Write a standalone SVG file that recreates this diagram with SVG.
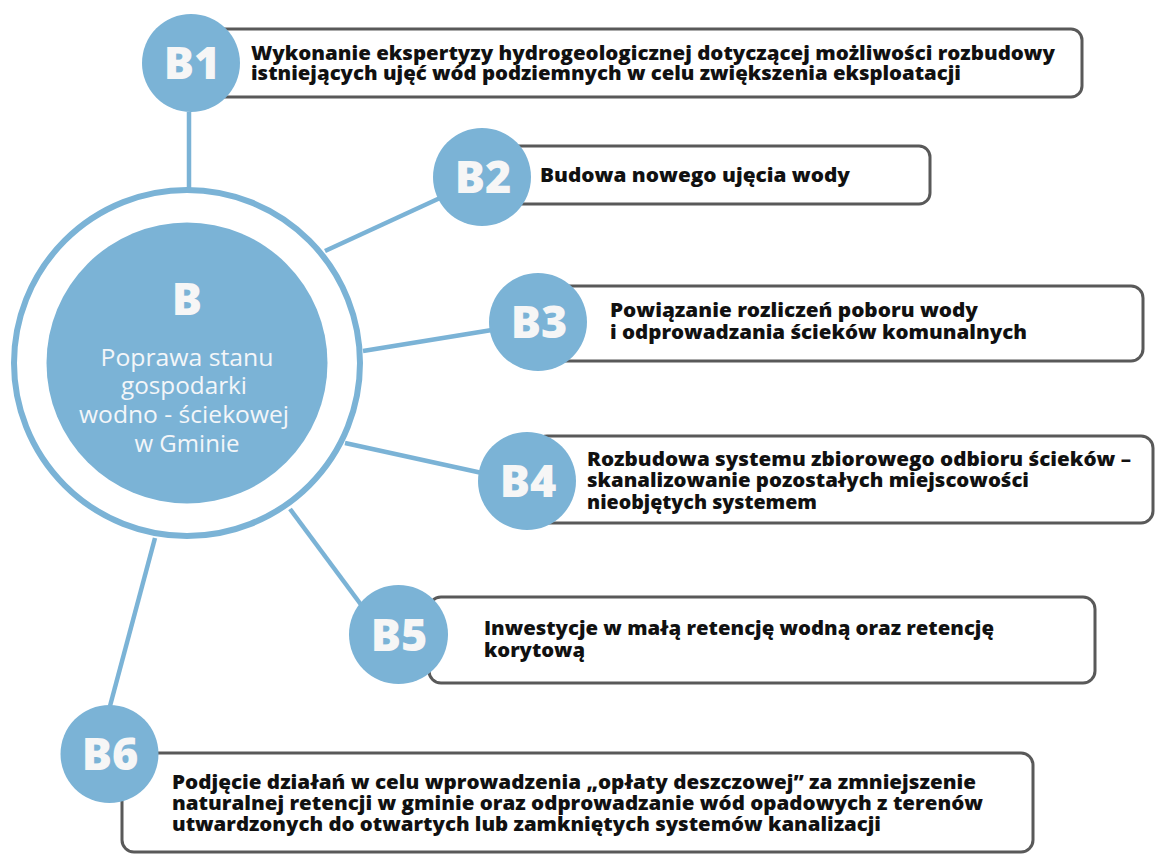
<svg xmlns="http://www.w3.org/2000/svg" width="1155" height="854" viewBox="0 0 1155 854">
<style>
.box{fill:#fff;stroke:#595959;stroke-width:3}
.dot{fill:#7BB3D6}
.lbl{font-family:"Open Sans","Liberation Sans",sans-serif;font-weight:800;font-size:45px;fill:#F6F6F6;text-anchor:middle}
.t{font-family:"Open Sans","Liberation Sans",sans-serif;font-weight:800;font-size:18.5px;fill:#111}
.c{font-family:"Open Sans","Liberation Sans",sans-serif;font-weight:400;font-size:23px;fill:#F3F6F9;text-anchor:middle}
.con{stroke:#7BB3D6;stroke-width:4.5;fill:none}
</style>
<rect width="1155" height="854" fill="#fff"/>
<g id="connectors">
<line class="con" x1="189" y1="112" x2="189" y2="190"/>
<line class="con" x1="325" y1="251" x2="440" y2="198"/>
<line class="con" x1="363" y1="351" x2="492" y2="330"/>
<line class="con" x1="345" y1="443" x2="482" y2="473"/>
<line class="con" x1="290" y1="509" x2="362" y2="606"/>
<line class="con" x1="155" y1="538" x2="110" y2="706"/>
</g>
<g id="B">
<circle cx="187" cy="363" r="173" fill="none" stroke="#7BB3D6" stroke-width="6"/>
<circle class="dot" cx="187" cy="363" r="140.5"/>
<text x="187" y="315" class="lbl" font-size="48">B</text>
<text class="c" x="187" y="366" textLength="173" lengthAdjust="spacingAndGlyphs">Poprawa stanu</text>
<text class="c" x="184" y="394" textLength="126" lengthAdjust="spacingAndGlyphs">gospodarki</text>
<text class="c" x="184" y="423" textLength="210" lengthAdjust="spacingAndGlyphs">wodno - ściekowej</text>
<text class="c" x="187" y="452" textLength="105" lengthAdjust="spacingAndGlyphs">w Gminie</text>
</g>
<g id="B1">
<rect class="box" x="200" y="29" width="882" height="68" rx="11"/>
<circle class="dot" cx="191" cy="63" r="49"/>
<text class="lbl" x="192" y="79">B1</text>
<text class="t" x="251" y="60" textLength="804" lengthAdjust="spacingAndGlyphs">Wykonanie ekspertyzy hydrogeologicznej dotyczącej możliwości rozbudowy</text>
<text class="t" x="251" y="80" textLength="710" lengthAdjust="spacingAndGlyphs">istniejących ujęć wód podziemnych w celu zwiększenia eksploatacji</text>
</g>
<g id="B2">
<rect class="box" x="490" y="146" width="440" height="58" rx="11"/>
<circle class="dot" cx="482" cy="177" r="49"/>
<text class="lbl" x="483" y="193">B2</text>
<text class="t" x="540" y="182" textLength="310" lengthAdjust="spacingAndGlyphs">Budowa nowego ujęcia wody</text>
</g>
<g id="B3">
<rect class="box" x="545" y="286" width="598" height="75" rx="12"/>
<circle class="dot" cx="538" cy="322" r="49"/>
<text class="lbl" x="539" y="338">B3</text>
<text class="t" x="610" y="317" textLength="368" lengthAdjust="spacingAndGlyphs">Powiązanie rozliczeń poboru wody</text>
<text class="t" x="610" y="339" textLength="417" lengthAdjust="spacingAndGlyphs">i odprowadzania ścieków komunalnych</text>
</g>
<g id="B4">
<rect class="box" x="535" y="436" width="618" height="87" rx="12"/>
<circle class="dot" cx="527" cy="481" r="49"/>
<text class="lbl" x="528" y="497">B4</text>
<text class="t" x="587" y="466" textLength="544" lengthAdjust="spacingAndGlyphs">Rozbudowa systemu zbiorowego odbioru ścieków –</text>
<text class="t" x="587" y="487" textLength="442" lengthAdjust="spacingAndGlyphs">skanalizowanie pozostałych miejscowości</text>
<text class="t" x="587" y="509" textLength="230" lengthAdjust="spacingAndGlyphs">nieobjętych systemem</text>
</g>
<g id="B5">
<rect class="box" x="429" y="597" width="666" height="86" rx="12"/>
<circle class="dot" cx="398.5" cy="634.5" r="49.5"/>
<text class="lbl" x="399" y="651">B5</text>
<text class="t" x="484" y="635" textLength="510" lengthAdjust="spacingAndGlyphs">Inwestycje w małą retencję wodną oraz retencję</text>
<text class="t" x="484" y="657" textLength="101" lengthAdjust="spacingAndGlyphs">korytową</text>
</g>
<g id="B6">
<rect class="box" x="122" y="753" width="911" height="99" rx="12"/>
<circle class="dot" cx="109.5" cy="754" r="49"/>
<text class="lbl" x="110" y="770">B6</text>
<text class="t" x="172" y="789" textLength="804" lengthAdjust="spacingAndGlyphs">Podjęcie działań w celu wprowadzenia „opłaty deszczowej” za zmniejszenie</text>
<text class="t" x="172" y="810" textLength="811" lengthAdjust="spacingAndGlyphs">naturalnej retencji w gminie oraz odprowadzanie wód opadowych z terenów</text>
<text class="t" x="172" y="831" textLength="709" lengthAdjust="spacingAndGlyphs">utwardzonych do otwartych lub zamkniętych systemów kanalizacji</text>
</g>
</svg>
